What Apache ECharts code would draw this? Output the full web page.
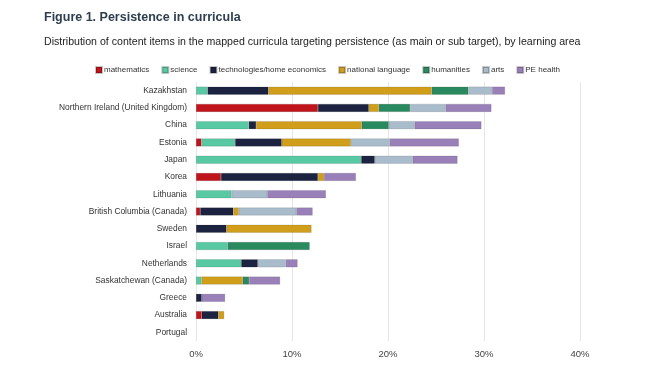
<!DOCTYPE html>
<html><head><meta charset="utf-8">
<script src="https://cdn.jsdelivr.net/npm/echarts@6/dist/echarts.min.js"></script>
<style>html,body{margin:0;padding:0;background:#fff}#c{width:660px;height:367px}</style>
</head><body><div id="c"></div>
<script>
const categories = ["Kazakhstan","Northern Ireland (United Kingdom)","China","Estonia","Japan","Korea","Lithuania","British Columbia (Canada)","Sweden","Israel","Netherlands","Saskatchewan (Canada)","Greece","Australia","Portugal"];
const mathematics = [0,12.7,0,0.57,0,2.6,0,0.43,0,0,0,0,0,0.6,0];
const science = [1.2,0,5.5,3.5,17.2,0,3.7,0,0,3.3,4.7,0.57,0,0,0];
const technologies = [6.35,5.3,0.76,4.86,1.42,10.1,0,3.46,3.18,0,1.74,0,0.6,1.74,0];
const nationalLanguage = [17.0,1.04,11.0,7.2,0,0.63,0,0.56,8.85,0,0,4.3,0,0.59,0];
const humanities = [3.82,3.26,2.81,0,0,0,0,0,0,8.54,0,0.66,0,0,0];
const arts = [2.47,3.7,2.71,4.06,3.96,0,3.72,6.0,0,0,2.92,0,0,0,0];
const peHealth = [1.35,4.77,6.95,7.19,4.66,3.33,6.11,1.7,0,0,1.22,3.23,2.43,0,0];
const xTicks = [0,10,20,30,40];

const seriesDefs = [
  ["mathematics", mathematics, "#c0141c"],
  ["science", science, "#58c9a2"],
  ["technologies/home economics", technologies, "#1c2340"],
  ["national language", nationalLanguage, "#d09e1a"],
  ["humanities", humanities, "#2a8a5f"],
  ["arts", arts, "#a9bccb"],
  ["PE health", peHealth, "#9a80b8"]
];
const font = "'Liberation Sans',Arial,sans-serif";
const chart = echarts.init(document.getElementById('c'), null, {renderer:'canvas'});
chart.setOption({
  animation:false,
  textStyle:{fontFamily:font},
  title:[
    {text:"Figure 1. Persistence in curricula", left:39, top:6, textStyle:{fontFamily:font, fontSize:12.5, fontWeight:'bold', color:'#2c3e50'}},
    {text:"Distribution of content items in the mapped curricula targeting persistence (as main or sub target), by learning area", left:39, top:32, textStyle:{fontFamily:font, fontSize:10.6, fontWeight:'normal', color:'#222'}}
  ],
  legend:{
    top:61, left:90, itemWidth:6, itemHeight:6, itemGap:12, icon:'rect',
    textStyle:{fontFamily:font, fontSize:8, color:'#333', padding:[0,0,0,-3]},
    data:seriesDefs.map(s=>s[0])
  },
  grid:{left:196, right:80, top:82, bottom:26},
  xAxis:{
    type:'value', min:0, max:40, interval:10,
    axisLabel:{formatter:v=>xTicks.includes(v)?v+'%':'', fontFamily:font, fontSize:9.5, color:'#444', margin:8},
    axisLine:{show:false}, axisTick:{show:false},
    splitLine:{lineStyle:{color:'#e6e6e6', width:1}}
  },
  yAxis:{
    type:'category', data:categories, inverse:true,
    axisLabel:{fontFamily:font, fontSize:8.4, color:'#333', margin:9},
    axisLine:{show:false}, axisTick:{show:false}
  },
  series:seriesDefs.map(([name,data,color])=>({
    name, type:'bar', stack:'all', data:data.map(v=>v===0?null:v), barWidth:8,
    itemStyle:{color, borderColor:'rgba(0,0,0,0.22)', borderWidth:0.5}
  }))
});
</script></body></html>
